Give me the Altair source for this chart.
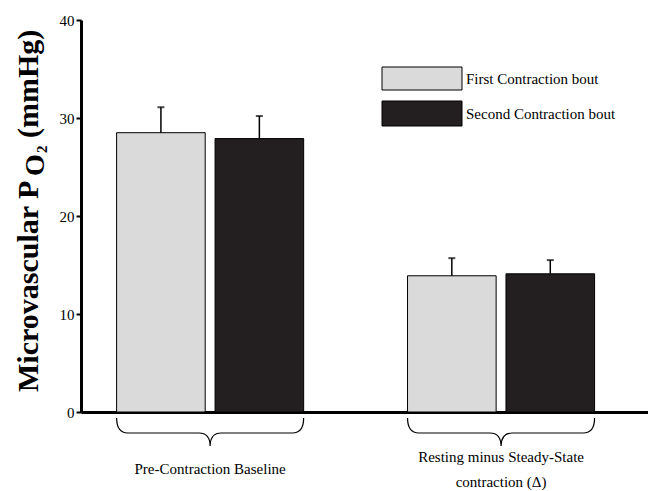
import altair as alt
import pandas as pd

# ---- data ----
groups = ["Pre-Contraction Baseline", "Resting minus Steady-State contraction (Δ)"]
group_lines = [["Pre-Contraction Baseline"], ["Resting minus Steady-State", "contraction (Δ)"]]
series = ["First Contraction bout", "Second Contraction bout"]
means = [28.5, 27.9, 13.9, 14.1]
errors = [2.6, 2.3, 1.8, 1.4]
colors = ["#dadada", "#231f20"]
y_ticks = [0, 10, 20, 30, 40]

rows = []
k = 0
for g in groups:
    for s in series:
        rows.append({"group": g, "series": s, "mean": means[k], "upper": means[k] + errors[k]})
        k += 1
df = pd.DataFrame(rows)
gdf = pd.DataFrame({"group": groups})

FONT = "Liberation Serif"
W, H = 567, 392

xscale = alt.Scale(domain=groups, paddingInner=0.357, paddingOuter=0.153, align=0.4)
xaxis = alt.Axis(title=None, labels=False, ticks=False, domainColor="black", domainWidth=3)
xenc = alt.X("group:N", sort=groups, scale=xscale, axis=xaxis)
xoff = alt.XOffset("series:N", sort=series, scale=alt.Scale(domain=series, paddingInner=0.1, paddingOuter=0))
yscale = alt.Scale(domain=[0, 40], nice=False)
yaxis = alt.Axis(values=y_ticks, title=None, grid=False, domainColor="black", domainWidth=3,
                 tickColor="black", tickWidth=2, tickSize=5, labelFont=FONT, labelFontSize=15,
                 labelColor="black", labelPadding=2)

bars = alt.Chart(df).mark_bar(stroke="black", strokeWidth=1).encode(
    x=xenc, xOffset=xoff,
    y=alt.Y("mean:Q", scale=yscale, axis=yaxis),
    fill=alt.Fill("series:N", sort=series, scale=alt.Scale(domain=series, range=colors), legend=None),
)
err = alt.Chart(df).mark_rule(color="black", strokeWidth=1.5).encode(
    x=xenc, xOffset=xoff, y=alt.Y("mean:Q", scale=yscale), y2="upper:Q"
)
cap = alt.Chart(df).mark_tick(color="black", thickness=2, size=7).encode(
    x=xenc, xOffset=xoff, y=alt.Y("upper:Q", scale=yscale)
)

BRACE = "M-1,-0.16 Q-1,0 -0.88,0 L-0.12,0 Q0,0 0,0.14 Q0,0 0.12,0 L0.88,0 Q1,0 1,-0.16"
braces = alt.Chart(gdf).mark_point(shape=BRACE, size=34969, filled=False, stroke="black",
                                   strokeWidth=1.2, opacity=1).encode(
    x=xenc, y=alt.value(H + 21)
)

label_layers = []
for g, lines in zip(groups, group_lines):
    n = len(lines)
    for j, line in enumerate(lines):
        ypos = H + 57 + (j - (n - 1) / 2) * 25
        label_layers.append(
            alt.Chart(pd.DataFrame({"group": [g], "t": [line]})).mark_text(
                font=FONT, fontSize=15, baseline="middle", color="black").encode(
                x=xenc, y=alt.value(ypos), text="t:N"))

# ---- y-axis title with subscript ----
def tpart(txt, x, y, size):
    return alt.Chart(pd.DataFrame({"t": [txt]})).mark_text(
        font=FONT, fontSize=size, fontWeight="bold", angle=270, align="left",
        baseline="alphabetic", color="black").encode(x=alt.value(x), y=alt.value(y), text="t:N")

title_layers = [
    tpart("Microvascular P", -43, 372, 30),
    tpart("O", -37, 156, 28),
    tpart("2", -34, 133, 15),
    tpart("(mmHg)", -43, 118, 30),
]

# ---- legend ----
leg_layers = []
leg_y = [(47, 70), (81, 106)]
for s, c, (y1, y2) in zip(series, colors, leg_y):
    sd = pd.DataFrame({"series": [s]})
    leg_layers.append(alt.Chart(sd).mark_rect(fill=c, stroke="black", strokeWidth=1).encode(
        x=alt.value(301), x2=alt.value(381), y=alt.value(y1), y2=alt.value(y2)))
    leg_layers.append(alt.Chart(sd).mark_text(font=FONT, fontSize=15, align="left",
                                              baseline="middle", color="black").encode(
        x=alt.value(385), y=alt.value((y1 + y2) / 2), text="series:N"))

chart = alt.layer(bars, err, cap, braces, *label_layers, *title_layers, *leg_layers).properties(
    width=W, height=H,
    padding={"left": 73, "top": 12, "right": 0, "bottom": 78},
    autosize=alt.AutoSizeParams(type="none"),
).configure_view(stroke=None)

chart.save("out.html", embed_options={"renderer": "svg", "actions": False})
